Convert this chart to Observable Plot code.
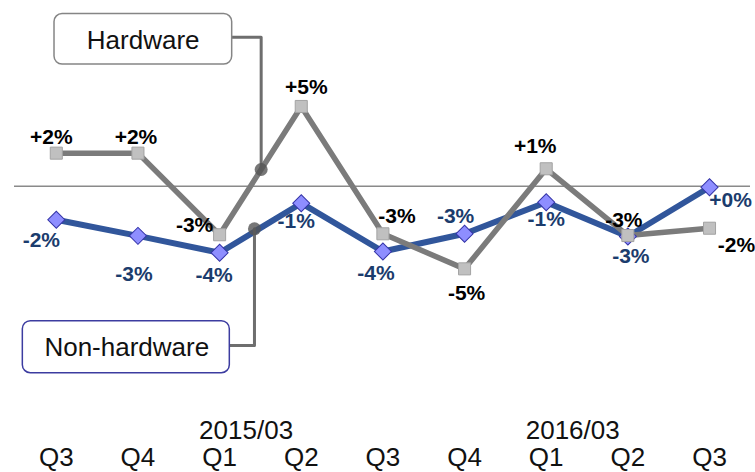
<!DOCTYPE html>
<html>
<head>
<meta charset="utf-8">
<script src="https://cdn.jsdelivr.net/npm/d3@7"></script>
<script src="https://cdn.jsdelivr.net/npm/@observablehq/plot@0.6"></script>
<style>
  html, body { margin: 0; padding: 0; background: #fff; }
</style>
</head>
<body>
<div id="chart"></div>
<script>
// ---- data ----
const quarters = ["Q3", "Q4", "Q1", "Q2", "Q3", "Q4", "Q1", "Q2", "Q3"];
const yearTickIndex = [2, 6];
const yearTickText = ["2015/03", "2016/03"];
const hardware = [2.07, 2.07, -3.05, 5.0, -2.99, -5.19, 1.09, -3.10, -2.64];
const hardwareLabels = ["+2%", "+2%", "-3%", "+5%", "-3%", "-5%", "+1%", "-3%", "-2%"];
const nonHardware = [-2.11, -3.12, -4.18, -1.07, -4.10, -2.99, -1.01, -3.16, -0.07];
const nonHardwareLabels = ["-2%", "-3%", "-4%", "-1%", "-4%", "-3%", "-1%", "-3%", "+0%"];

// ---- layout (label placement offsets in px, callout geometry in data units) ----
const hwOffsets = [[-5,-16],[-2,-16],[-25,-9],[5,-19.5],[14,-18],[2,24],[-11,-23],[-4,-15],[27,17]];
const nhOffsets = [[-15,20],[-4,38],[-5.5,23],[-5,18],[-7,21.5],[-9,-18],[0,17],[3,20],[21,13]];
const callouts = [
  {name: "Hardware", x1: -0.022, x2: 2.154, y1: 7.63, y2: 10.80, tx: 1.064, ty: 8.62,
   path: [[2.154, 9.347], [2.509, 9.347], [2.509, 1.045]], border: "#858585"},
  {name: "Non-hardware", x1: -0.410, x2: 2.125, y1: -8.475, y2: -11.74, tx: 0.863, ty: -10.69,
   path: [[2.125, -10.0], [2.427, -10.0], [2.427, -2.677]], border: "#3c3ca0"}
];

const idx = quarters.map((q, i) => i);
const hwColor = "#7b7b7b";
const nhColor = "#31569b";
const nhText = "#1b3c6d";

const marks = [
  Plot.ruleY([0], {stroke: "#8a8a8a", strokeWidth: 1.5}),
  Plot.line(idx, {x: i => i, y: i => nonHardware[i], stroke: nhColor, strokeWidth: 6, strokeLinejoin: "round"}),
  Plot.line(idx, {x: i => i, y: i => hardware[i], stroke: hwColor, strokeWidth: 5.5, strokeLinejoin: "round"}),
  Plot.dot(idx, {x: i => i, y: i => nonHardware[i], symbol: "square", rotate: 45, r: 6.8,
    fill: "#8e8eff", stroke: "#3434a8", strokeWidth: 1}),
  Plot.dot(idx, {x: i => i, y: i => hardware[i], symbol: "square", r: 6.8,
    fill: "#c0c0c0", stroke: "#a3a3a3", strokeWidth: 1})
];

// connectors, circles, boxes
for (const c of callouts) {
  marks.push(Plot.line(c.path, {x: d => d[0], y: d => d[1], stroke: "#6e6e6e", strokeWidth: 3}));
  marks.push(Plot.dot([c.path[c.path.length - 1]], {x: d => d[0], y: d => d[1], r: 6.5, fill: "#555", fillOpacity: 0.8}));
  marks.push(Plot.rect([c], {x1: "x1", x2: "x2", y1: "y1", y2: "y2", rx: 8, ry: 8, fill: "white", stroke: c.border, strokeWidth: 1.5}));
  marks.push(Plot.text([c], {x: "tx", y: "ty", text: "name", lineAnchor: "bottom", fontSize: 26, fill: "#111"}));
}

// value labels
idx.forEach(i => {
  marks.push(Plot.text([i], {x: d => d, y: d => nonHardware[d], text: d => nonHardwareLabels[d],
    dx: nhOffsets[i][0], dy: nhOffsets[i][1], fontSize: 21, fontWeight: "bold", fill: nhText}));
  marks.push(Plot.text([i], {x: d => d, y: d => hardware[d], text: d => hardwareLabels[d],
    dx: hwOffsets[i][0], dy: hwOffsets[i][1], fontSize: 21, fontWeight: "bold", fill: "#000"}));
});

// axes
marks.push(Plot.axisX(idx, {anchor: "bottom", tickSize: 0, tickPadding: 102, fontSize: 26,
  tickFormat: i => quarters[i], fill: "#111", label: null}));
marks.push(Plot.text(yearTickIndex, {x: d => d, text: (d, k) => yearTickText[k], frameAnchor: "bottom",
  lineAnchor: "bottom", dy: 93, dx: 26.5, fontSize: 26, fill: "#111"}));

const chart = Plot.plot({
  width: 755,
  height: 472,
  marginLeft: 14,
  marginRight: 5,
  marginTop: 0,
  marginBottom: 127,
  x: {domain: [-0.512, 8.502], axis: null},
  y: {domain: [-10, 11.65], axis: null},
  style: {fontFamily: "'Liberation Sans', Arial, sans-serif", background: "white", overflow: "visible"},
  marks
});
document.getElementById("chart").appendChild(chart);
</script>
</body>
</html>
